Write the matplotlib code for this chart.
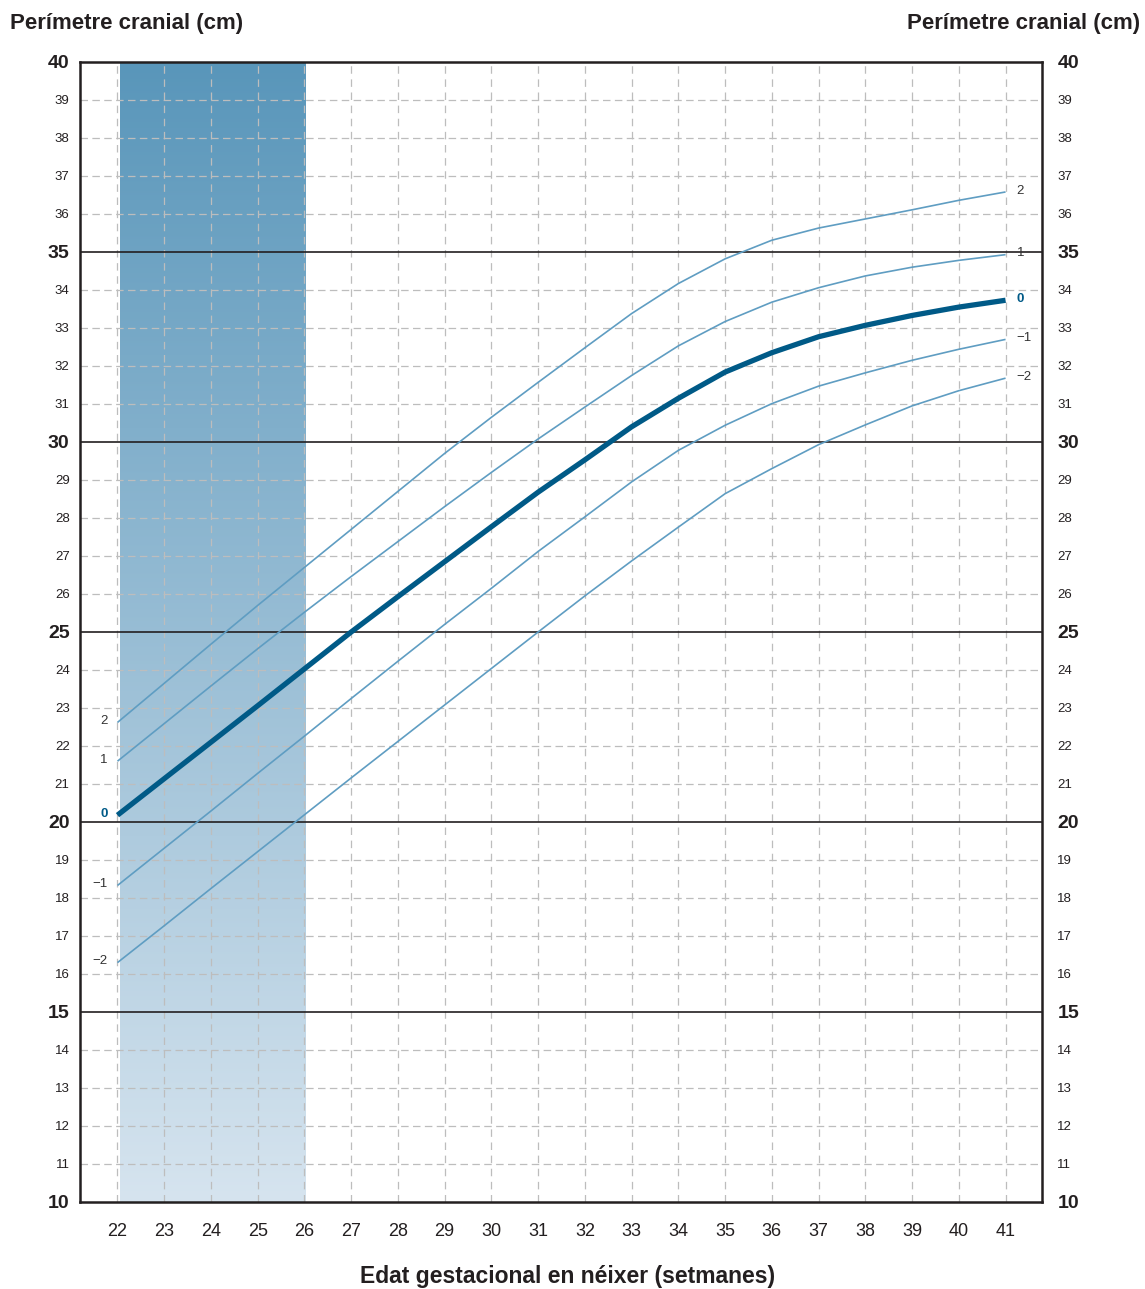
import numpy as np
import matplotlib
matplotlib.use("Agg")
import matplotlib.pyplot as plt

plt.rcParams['font.family'] = ['Liberation Sans', 'DejaVu Sans']

# Dades: perímetre cranial per desviacions estàndard (-2..2)
weeks = list(range(22, 42))
sd_p2 = [22.62, 23.65, 24.68, 25.70, 26.70, 27.70, 28.70, 29.70, 30.65, 31.57,
         32.48, 33.38, 34.17, 34.82, 35.31, 35.63, 35.87, 36.11, 36.36, 36.58]
sd_p1 = [21.60, 22.59, 23.58, 24.56, 25.52, 26.46, 27.38, 28.30, 29.20, 30.08,
         30.92, 31.75, 32.53, 33.17, 33.68, 34.06, 34.37, 34.60, 34.78, 34.93]
sd_0 = [20.18, 21.14, 22.10, 23.06, 24.03, 25.00, 25.93, 26.85, 27.77, 28.68,
        29.53, 30.40, 31.15, 31.84, 32.35, 32.77, 33.07, 33.33, 33.55, 33.73]
sd_m1 = [18.33, 19.31, 20.29, 21.28, 22.26, 23.25, 24.23, 25.20, 26.15, 27.12,
         28.03, 28.95, 29.78, 30.44, 31.01, 31.47, 31.82, 32.15, 32.44, 32.70]
sd_m2 = [16.30, 17.27, 18.25, 19.22, 20.19, 21.16, 22.12, 23.08, 24.04, 25.00,
         25.95, 26.87, 27.76, 28.64, 29.30, 29.93, 30.45, 30.95, 31.35, 31.68]
curve_labels = ['2', '1', '0', '\u22121', '\u22122']
y_ticks = list(range(10, 41))
band_weeks = (22.05, 26.01)

light = '#5f9dc2'
dark = '#005a87'
ink = '#231f20'

fig = plt.figure(figsize=(11.45, 12.89), dpi=100)
ax = fig.add_axes([80 / 1145, 87 / 1289, 962 / 1145, 1140 / 1289])
ax.set_xlim(21.198, 41.78)
ax.set_ylim(10, 40)

# franja ombrejada amb degradat vertical
top = np.array([89, 150, 186]) / 255
bottom = np.array([214, 228, 239]) / 255
t = np.linspace(0, 1, 256)[:, None, None]
grad = top * (1 - t) + bottom * t
ax.imshow(grad, extent=[band_weeks[0], band_weeks[1], 10, 40], aspect='auto',
          origin='upper', zorder=0, interpolation='bilinear')

# quadrícula
for w in weeks:
    ax.axvline(w, color='#bdbdbd', lw=0.9, dashes=(6, 4.5), zorder=1)
for y in y_ticks[1:-1]:
    if y % 5 == 0:
        ax.axhline(y, color=ink, lw=1.2, zorder=2)
    else:
        ax.axhline(y, color='#bdbdbd', lw=0.9, dashes=(6, 3.5), zorder=1)

# corbes
series = [sd_p2, sd_p1, sd_0, sd_m1, sd_m2]
for vals, lab in zip(series, curve_labels):
    is_mean = lab == '0'
    ax.plot(weeks, vals, color=dark if is_mean else light,
            lw=3.8 if is_mean else 1.2, solid_capstyle='butt', zorder=3)
    col = dark if is_mean else '#333333'
    wt = 'bold' if is_mean else 'normal'
    ax.annotate(lab, (weeks[0], vals[0]), xytext=(-7, 1), textcoords='offset points',
                ha='right', va='center', fontsize=9.5, color=col, fontweight=wt)
    ax.annotate(lab, (weeks[-1], vals[-1]), xytext=(8, 1), textcoords='offset points',
                ha='left', va='center', fontsize=9.5, color=col, fontweight=wt)

# eixos
for s in ax.spines.values():
    s.set_linewidth(1.8)
    s.set_color(ink)
    s.set_zorder(5)

ax.set_xticks(weeks)
ax.set_xticklabels([str(w) for w in weeks])
ax.tick_params(axis='x', length=0, pad=15, labelsize=13, labelcolor=ink)

ax.set_yticks(y_ticks)
ax.set_yticklabels([str(y) for y in y_ticks])
ax.tick_params(axis='y', length=0, pad=7.5, labelcolor=ink)

sec = ax.secondary_yaxis('right')
sec.set_yticks(y_ticks)
sec.set_yticklabels([str(y) for y in y_ticks])
sec.tick_params(axis='y', length=0, pad=11, labelcolor=ink)
sec.spines['right'].set_visible(False)

for axis_obj in (ax.yaxis, sec.yaxis):
    for lb, y in zip(axis_obj.get_ticklabels(), y_ticks):
        if y % 5 == 0:
            lb.set_fontsize(14)
            lb.set_fontweight('bold')
        else:
            lb.set_fontsize(9.5)

fig.text(10 / 1145, 1 - 24 / 1289, 'Perímetre cranial (cm)', ha='left', va='center',
         fontsize=16, fontweight='bold', color=ink)
fig.text(1140 / 1145, 1 - 24 / 1289, 'Perímetre cranial (cm)', ha='right', va='center',
         fontsize=16, fontweight='bold', color=ink)
fig.text(568 / 1145, 1 - 1277 / 1289, 'Edat gestacional en néixer (setmanes)',
         ha='center', va='center', fontsize=16.5, fontweight='bold', color=ink)

fig.savefig('out.png', dpi=100)
